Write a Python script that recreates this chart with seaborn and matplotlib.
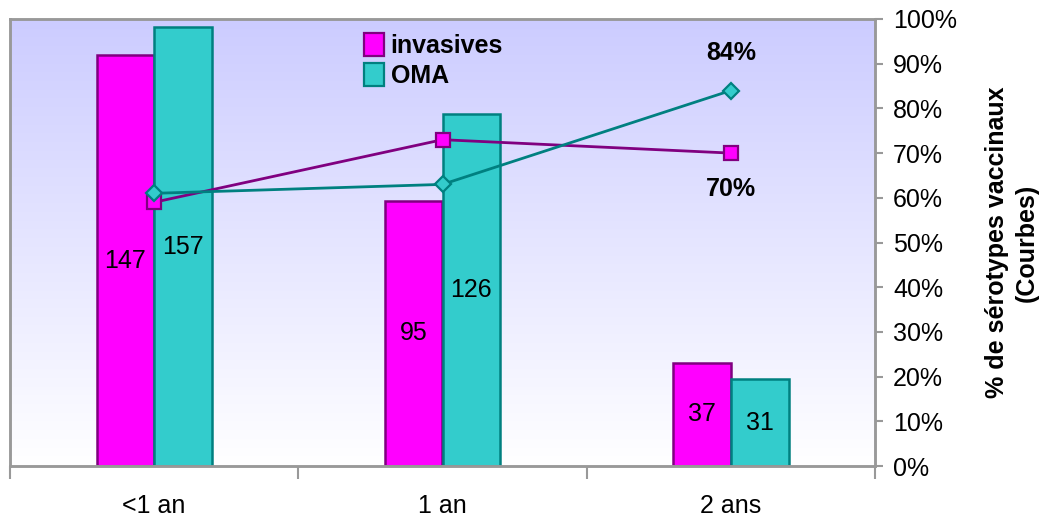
import numpy as np
import pandas as pd
import matplotlib
matplotlib.use("Agg")
import matplotlib.pyplot as plt
import seaborn as sns
from matplotlib.patches import Patch

sns.set_theme(style="white")
plt.rcParams["font.family"] = ["Liberation Sans", "DejaVu Sans"]
plt.rcParams["text.color"] = "black"
plt.rcParams["xtick.color"] = "black"
plt.rcParams["ytick.color"] = "black"
plt.rcParams["axes.labelcolor"] = "black"

# Data
categories = ["<1 an", "1 an", "2 ans"]
series = ["invasives", "OMA"]
counts_invasives = [147, 95, 37]
counts_oma = [157, 126, 31]
pct_invasives = [59, 73, 70]
pct_oma = [61, 63, 84]
pct_ticks = [0, 10, 20, 30, 40, 50, 60, 70, 80, 90, 100]

fill_colors = {"invasives": "#FF00FF", "OMA": "#33CCCC"}
edge_colors = {"invasives": "#800080", "OMA": "#008080"}
FS = 18

df = pd.DataFrame({
    "age": categories * 2,
    "serie": ["invasives"] * 3 + ["OMA"] * 3,
    "n": counts_invasives + counts_oma,
})

fig = plt.figure(figsize=(10.43, 5.2), dpi=100)
ax = fig.add_axes([10 / 1043, 1 - 466 / 520, 865 / 1043, 447 / 520])

# vertical lavender-to-white gradient behind the plot
grad = np.linspace(0, 1, 256).reshape(-1, 1)
top = np.array([204, 204, 255]) / 255
bot = np.array([255, 255, 255]) / 255
img = top[None, None, :] * (1 - grad[..., None]) + bot[None, None, :] * grad[..., None]
ax.imshow(img, extent=[-0.5, 2.5, 0, 160], aspect="auto", zorder=0, origin="upper")

sns.barplot(data=df, x="age", y="n", hue="serie", order=categories,
            hue_order=series, palette=fill_colors, saturation=1, width=0.4,
            ax=ax, legend=False, zorder=2)
for cont, s in zip(ax.containers, series):
    for bar in cont:
        bar.set_edgecolor(edge_colors[s])
        bar.set_linewidth(1.8)
    ax.bar_label(cont, label_type="center", fontsize=FS, color="black")

ax.set_xlim(-0.5, 2.5)
ax.set_ylim(0, 160)
ax.set_xlabel("")
ax.set_ylabel("")
ax.set_yticks([])
ax.set_xticks(range(len(categories)))
ax.set_xticklabels(categories, fontsize=FS)
ax.set_xticks([-0.5, 0.5, 1.5, 2.5], minor=True)
ax.tick_params(axis="x", which="major", length=0, pad=20)
ax.tick_params(axis="x", which="minor", length=9, width=1.5, color="#999999",
               direction="out", bottom=True)
for sp in ax.spines.values():
    sp.set_color("#999999")
    sp.set_linewidth(1.8)

# percentage curves on the secondary axis
ax2 = ax.twinx()
xpos = np.arange(len(categories))
ax2.plot(xpos, pct_invasives, color="#800080", lw=2, marker="s", ms=10,
         mfc="#FF00FF", mec="#800080", mew=1.6, zorder=3)
ax2.plot(xpos, pct_oma, color="#008080", lw=2, marker="D", ms=8,
         mfc="#33CCCC", mec="#008080", mew=1.6, zorder=3)
ax2.set_ylim(0, 100)
ax2.set_yticks(pct_ticks)
ax2.set_yticklabels([f"{t}%" for t in pct_ticks], fontsize=FS)
ax2.tick_params(axis="y", length=6, width=1.5, color="#999999", direction="out",
                pad=7, right=True)
for sp in ax2.spines.values():
    sp.set_color("#999999")
    sp.set_linewidth(1.8)
ax2.set_ylabel("% de sérotypes vaccinaux\n(Courbes)", fontsize=FS,
               fontweight="bold", labelpad=20, linespacing=1.3)

ax2.annotate(f"{pct_oma[2]}%", (xpos[2], pct_oma[2]), xytext=(0, 27),
             textcoords="offset points", ha="center", va="center",
             fontsize=FS, fontweight="bold")
ax2.annotate(f"{pct_invasives[2]}%", (xpos[2], pct_invasives[2]), xytext=(0, -26),
             textcoords="offset points", ha="center", va="center",
             fontsize=FS, fontweight="bold")

handles = [Patch(facecolor=fill_colors[s], edgecolor=edge_colors[s], linewidth=1.6, label=s)
           for s in series]
ax2.legend(handles=handles, loc="upper left", bbox_to_anchor=(0.398, 0.99),
           frameon=False, prop={"weight": "bold", "size": FS},
           handlelength=0.8, handleheight=1.0, handletextpad=0.25,
           labelspacing=0.2, borderaxespad=0)

fig.savefig("out.png", dpi=100)
